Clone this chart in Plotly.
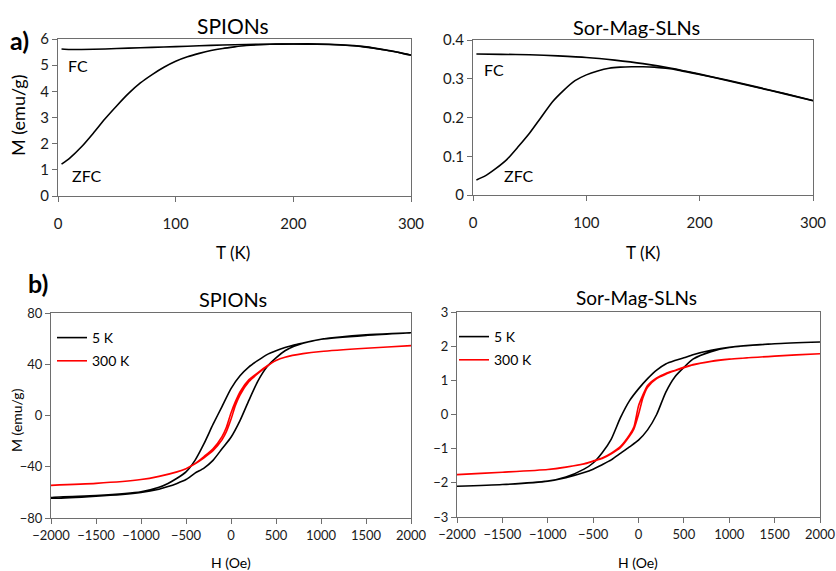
import plotly.graph_objects as go

W, H = 836, 571
FONT = "Lato"

# ---------- a) ZFC / FC ----------
T_zfc_sp = [3, 10, 20, 30, 40, 50, 60, 70, 80, 90, 100, 110, 120, 130, 140, 150, 160, 170, 180, 190, 200,
            220, 240, 250, 260, 270, 280, 290, 300]
M_zfc_sp = [1.22, 1.45, 1.88, 2.4, 2.95, 3.45, 3.92, 4.32, 4.64, 4.92, 5.15, 5.32, 5.45, 5.56, 5.64, 5.7, 5.75,
            5.78, 5.8, 5.81, 5.81, 5.8, 5.77, 5.74, 5.7, 5.64, 5.56, 5.48, 5.38]
T_fc_sp = [3, 10, 20, 40, 60, 80, 100, 120, 140, 160, 180, 200, 220, 240, 260, 280, 300]
M_fc_sp = [5.62, 5.6, 5.6, 5.62, 5.65, 5.68, 5.71, 5.74, 5.77, 5.79, 5.8, 5.81, 5.81, 5.78, 5.71, 5.57, 5.39]

T_zfc_sl = [3, 10, 20, 30, 40, 50, 60, 70, 80, 90, 100, 110, 120, 130, 140, 150, 160, 170, 180, 200,
            225, 250, 275, 300]
M_zfc_sl = [0.039, 0.048, 0.068, 0.092, 0.125, 0.16, 0.2, 0.24, 0.27, 0.295, 0.31, 0.32, 0.327, 0.33, 0.331,
            0.331, 0.33, 0.327, 0.323, 0.311, 0.295, 0.278, 0.261, 0.243]
T_fc_sl = [3, 25, 50, 75, 100, 125, 150, 175, 200, 225, 250, 275, 300]
M_fc_sl = [0.364, 0.363, 0.362, 0.359, 0.355, 0.348, 0.339, 0.327, 0.312, 0.296, 0.279, 0.262, 0.244]

# ---------- b) hysteresis ----------
H_desc = [2000, 1500, 1000, 800, 700, 600, 500, 400, 300, 200, 100, 0, -100, -200, -300, -400, -500, -600,
          -700, -800, -1000, -1500, -2000]
H_asc = [-2000, -1500, -1000, -800, -700, -600, -500, -400, -300, -200, -100, 0, 100, 200, 300, 400, 500, 600,
         700, 800, 1000, 1500, 2000]
M_sp_5K_desc = [64.5, 63, 59.5, 56.5, 55, 53, 50.5, 47.5, 43, 38, 31, 21, 7, -7, -22, -35, -44, -49, -53, -56,
                -59.5, -62.5, -64]
M_sp_5K_asc = [-64.5, -63, -60, -57.5, -55.5, -53, -50, -45, -41, -35, -26, -17, -4, 12, 27, 38, 45, 50.5, 54,
               56.5, 59.5, 62.5, 64.5]

H_desc_r = [2000, 1500, 1000, 800, 600, 500, 400, 300, 200, 100, 50, 0, -50, -100, -200, -300, -400, -500,
            -600, -800, -1000, -1500, -2000]
H_asc_r = [-2000, -1500, -1000, -800, -600, -500, -400, -300, -200, -100, -50, 0, 50, 100, 200, 300, 400, 500,
           600, 800, 1000, 1500, 2000]
M_sp_300K_desc = [54.5, 52.5, 50, 48.3, 45.5, 43, 38.7, 33.5, 28, 18.5, 11, 2, -9, -16.5, -26, -32, -37.5, -41.5,
                  -44, -47.5, -50, -53, -54.5]
M_sp_300K_asc = [-54.5, -53, -50, -47.5, -44, -41.5, -37.7, -33, -27.5, -19, -12.5, -3, 8, 16, 26.5, 32.8, 38.3,
                 43, 45.5, 48.3, 50, 52.5, 54.5]

H_desc_s = [2000, 1500, 1000, 800, 600, 500, 400, 300, 200, 100, 0, -100, -200, -300, -400, -500, -600, -800,
            -1000, -1500, -2000]
H_asc_s = [-2000, -1500, -1000, -800, -600, -500, -400, -300, -200, -100, 0, 100, 200, 300, 400, 500, 600, 800,
           1000, 1500, 2000]
M_sl_5K_desc = [2.12, 2.07, 1.97, 1.88, 1.75, 1.66, 1.58, 1.48, 1.3, 1.05, 0.75, 0.4, -0.1, -0.72, -1.12, -1.42,
                -1.6, -1.83, -1.95, -2.05, -2.1]
M_sl_5K_asc = [-2.1, -2.05, -1.95, -1.85, -1.7, -1.6, -1.47, -1.33, -1.14, -0.95, -0.75, -0.45, 0.0, 0.65, 1.1,
               1.38, 1.62, 1.84, 1.96, 2.07, 2.12]

M_sl_300K_desc = [1.78, 1.71, 1.62, 1.56, 1.46, 1.38, 1.29, 1.2, 1.07, 0.85, 0.58, 0.25, -0.36, -0.6, -0.94,
                  -1.13, -1.27, -1.36, -1.44, -1.54, -1.61, -1.69, -1.76]
M_sl_300K_asc = [-1.76, -1.69, -1.61, -1.54, -1.45, -1.37, -1.29, -1.15, -0.97, -0.64, -0.42, 0.0, 0.5, 0.8,
                 1.05, 1.18, 1.28, 1.37, 1.45, 1.55, 1.62, 1.71, 1.78]

titles = ["SPIONs", "Sor-Mag-SLNs", "SPIONs", "Sor-Mag-SLNs"]
x_ticks_T = [0, 100, 200, 300]
x_ticks_H = [-2000, -1500, -1000, -500, 0, 500, 1000, 1500, 2000]
y_ticks = [[0, 1, 2, 3, 4, 5, 6], [0, 0.1, 0.2, 0.3, 0.4], [-80, -40, 0, 40, 80], [-3, -2, -1, 0, 1, 2, 3]]
legend_names = ["5 K", "300 K"]

BLACK = "#000000"
RED = "#ff0000"

def px_x(p):
    return p / W

def px_y(p):
    return 1 - p / H

fig = go.Figure()
lw = 1.6
line_k = dict(color=BLACK, width=lw, shape="spline", smoothing=0.6)
line_r = dict(color=RED, width=lw, shape="spline", smoothing=0.6)
fig.add_trace(go.Scatter(x=T_fc_sp, y=M_fc_sp, mode="lines", line=line_k,
                         showlegend=False, xaxis="x", yaxis="y"))
fig.add_trace(go.Scatter(x=T_zfc_sp, y=M_zfc_sp, mode="lines", line=line_k,
                         showlegend=False, xaxis="x", yaxis="y"))
fig.add_trace(go.Scatter(x=T_fc_sl, y=M_fc_sl, mode="lines", line=line_k,
                         showlegend=False, xaxis="x2", yaxis="y2"))
fig.add_trace(go.Scatter(x=T_zfc_sl, y=M_zfc_sl, mode="lines", line=line_k,
                         showlegend=False, xaxis="x2", yaxis="y2"))

fig.add_trace(go.Scatter(x=H_desc + H_asc, y=M_sp_5K_desc + M_sp_5K_asc, mode="lines", name=legend_names[0],
                         line=line_k, xaxis="x3", yaxis="y3",
                         legend="legend", legendgroup="a"))
fig.add_trace(go.Scatter(x=H_desc_r + H_asc_r, y=M_sp_300K_desc + M_sp_300K_asc, mode="lines",
                         name=legend_names[1], line=line_r, xaxis="x3", yaxis="y3",
                         legend="legend", legendgroup="b"))
fig.add_trace(go.Scatter(x=H_desc_s + H_asc_s, y=M_sl_5K_desc + M_sl_5K_asc, mode="lines", name=legend_names[0],
                         line=line_k, xaxis="x4", yaxis="y4",
                         legend="legend2", legendgroup="c"))
fig.add_trace(go.Scatter(x=H_desc_r + H_asc_r, y=M_sl_300K_desc + M_sl_300K_asc, mode="lines",
                         name=legend_names[1], line=line_r, xaxis="x4", yaxis="y4",
                         legend="legend2", legendgroup="d"))

domains = [
    ((58, 411), (39, 196)),
    ((473, 813), (40, 195)),
    ((51, 411), (313, 518)),
    ((457, 820), (312, 517)),
]
ranges_x = [[0, 300], [0, 300], [-2000, 2000], [-2000, 2000]]
ranges_y = [[0, 6], [0, 0.4], [-80, 80], [-3, 3]]

axis_common = dict(showline=True, linecolor="#6e6e6e", linewidth=1, mirror=True, ticks="outside",
                   tickcolor="#6e6e6e", ticklen=5, showgrid=False, zeroline=False, automargin=False,
                   tickfont=dict(family=FONT, color="#1a1a1a"))
layout = {}
for i in range(4):
    sx = "" if i == 0 else str(i + 1)
    (x0, x1), (y0, y1) = domains[i]
    top = i < 2
    xt = x_ticks_T if top else x_ticks_H
    ax_x = dict(axis_common, domain=[px_x(x0), px_x(x1)], range=ranges_x[i], tickvals=xt,
                anchor="y" + sx, tickfont=dict(family=FONT, size=15 if top else 13, color="#1a1a1a"))
    if top:
        ax_x["ticklabelstandoff"] = 9
    ax_y = dict(axis_common, domain=[px_y(y1), px_y(y0)], range=ranges_y[i], tickvals=y_ticks[i],
                anchor="x" + sx, tickfont=dict(family=FONT, size=15 if top else 13, color="#1a1a1a"))
    layout["xaxis" + sx] = ax_x
    layout["yaxis" + sx] = ax_y

annotations = []
def ann(text, x, y, size, bold=False, angle=0, xanchor="center"):
    annotations.append(dict(text=("<b>%s</b>" % text) if bold else text, x=px_x(x), y=px_y(y),
                            xref="paper", yref="paper", showarrow=False, xanchor=xanchor, yanchor="middle",
                            textangle=angle, font=dict(family=FONT, size=size, color="#000000")))

ann(titles[0], 233, 25, 21)
ann(titles[1], 636, 27, 20)
ann(titles[2], 233, 299, 20)
ann(titles[3], 636, 297, 19)
ann("a)", 8, 40, 25, bold=True, xanchor="left")
ann("b)", 26, 283, 25, bold=True, xanchor="left")
ann("M (emu/g)", 18, 116, 18, angle=-90)
ann("T (K)", 233, 252, 17)
ann("T (K)", 643, 252, 17)
ann("M (emu/g)", 16, 420, 14, angle=-90)
ann("H (Oe)", 231, 562, 14)
ann("H (Oe)", 638, 562, 14)
ann("FC", 66, 66, 16, xanchor="left")
ann("ZFC", 70, 175, 16, xanchor="left")
ann("FC", 482, 70, 16, xanchor="left")
ann("ZFC", 502, 175, 16, xanchor="left")

legend_style = dict(bgcolor="rgba(0,0,0,0)", borderwidth=0, font=dict(family=FONT, size=14, color="#000"),
                    tracegroupgap=2, itemwidth=30, xanchor="left", yanchor="top", orientation="v")
fig.update_layout(
    width=W, height=H, margin=dict(l=0, r=0, t=0, b=0, pad=0, autoexpand=False),
    paper_bgcolor="white", plot_bgcolor="white",
    annotations=annotations,
    legend=dict(legend_style, x=px_x(52), y=px_y(322)),
    legend2=dict(legend_style, x=px_x(454), y=px_y(321)),
    **layout,
)
fig.write_html("out.html", config={"displayModeBar": False},
               post_script="document.body.style.margin='0';document.body.style.overflow='hidden';")
